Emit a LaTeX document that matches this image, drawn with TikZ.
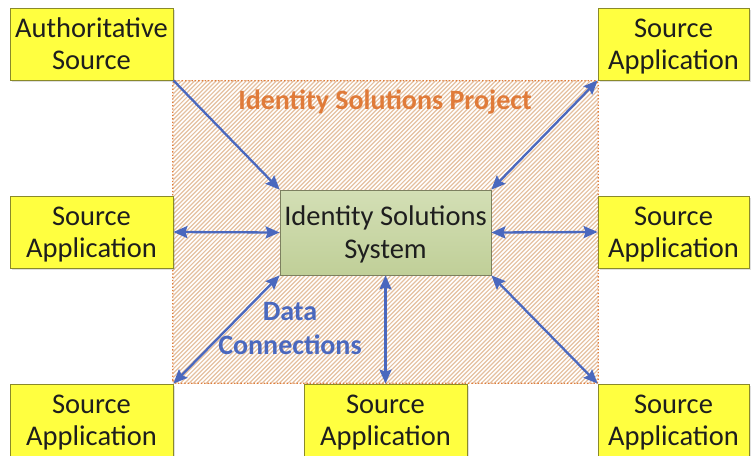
\documentclass[tikz,border=0pt]{standalone}
\usepackage{fontspec}
\setmainfont{Carlito}
\usetikzlibrary{arrows.meta,shadows}
\definecolor{boxyellow}{HTML}{FFFF40}
\definecolor{boxedge}{HTML}{8A8A2A}
\definecolor{projorange}{HTML}{E07B39}
\definecolor{hatch}{HTML}{E4C0A0}
\definecolor{linkblue}{HTML}{4A68BE}
\definecolor{sysTop}{HTML}{D3DFB5}
\definecolor{sysBot}{HTML}{C0CF98}
\definecolor{sysEdge}{HTML}{7D8060}
\definecolor{txt}{HTML}{1E1E1E}
\tikzset{
  srcbox/.style={draw=boxedge, fill=boxyellow, line width=0.8pt, minimum width=163pt,
    minimum height=72pt, align=center, inner sep=0pt, text=txt, text depth=0pt,
    font=\fontsize{28.5}{32}\selectfont,
    drop shadow={shadow xshift=1.5pt, shadow yshift=-1.5pt, opacity=0.25}},
  sysbox/.style={draw=sysEdge, top color=sysTop, bottom color=sysBot, line width=0.8pt,
    minimum width=211pt, minimum height=85pt, align=center, inner sep=0pt, text=txt,
    text depth=0pt, font=\fontsize{28.5}{33}\selectfont},
  hatchline/.style={draw=hatch, line width=1.2pt},
  projedge/.style={draw=projorange, dotted, line width=1.3pt, rounded corners=3pt},
  tip/.tip={Stealth[length=14pt,width=12pt,inset=2pt]},
  link/.style={draw=linkblue, line width=2.3pt, tip-tip},
  onelink/.style={draw=linkblue, line width=2.3pt, -tip},
}
\begin{document}
\begin{tikzpicture}[x=1pt,y=-1pt]
\useasboundingbox (0,0) rectangle (752,455);
% project area
\path node[minimum width=425pt, minimum height=302pt, inner sep=0pt] (proj) at (385.5,232) {};
\begin{scope}
  \clip (proj.south west) rectangle (proj.north east);
  \foreach \i in {0,...,172}
    \draw[hatchline] ({173+\i*4.3-305},386) -- ++(310,-310);
\end{scope}
\draw[projedge] (proj.south west) rectangle (proj.north east);
\node[text=projorange, font=\fontsize{28}{30}\selectfont\bfseries] (ptitle) at (385,102) {Identity Solutions Project};
\node[text=linkblue, font=\fontsize{28}{34}\selectfont\bfseries, align=center] (dc) at (290,329) {Data\\Connections};
% system
\node[sysbox] (sys) at (385.5,232.5) {Identity Solutions\\System};
% source boxes
\node[srcbox] (auth) at (91.5,44) {Authoritative\\Source};
\node[srcbox, minimum width=151pt] (tr) at (673.5,44) {Source\\Application};
\node[srcbox] (ml) at (91.5,232) {Source\\Application};
\node[srcbox, minimum width=151pt] (mr) at (673.5,232) {Source\\Application};
\node[srcbox] (bl) at (91.5,420) {Source\\Application};
\node[srcbox] (bc) at (385.5,420) {Source\\Application};
\node[srcbox, minimum width=151pt] (br) at (673.5,420) {Source\\Application};
% connectors
\draw[onelink] (auth.south east) -- (sys.north west);
\draw[link] (sys.north east) -- (tr.south west);
\draw[link] (ml.east) -- (sys.west);
\draw[link] (sys.east) -- (mr.west);
\draw[link] (bl.north east) -- (sys.south west);
\draw[link] (sys.south) -- (bc.north);
\draw[link] (sys.south east) -- (br.north west);
\end{tikzpicture}
\end{document}
